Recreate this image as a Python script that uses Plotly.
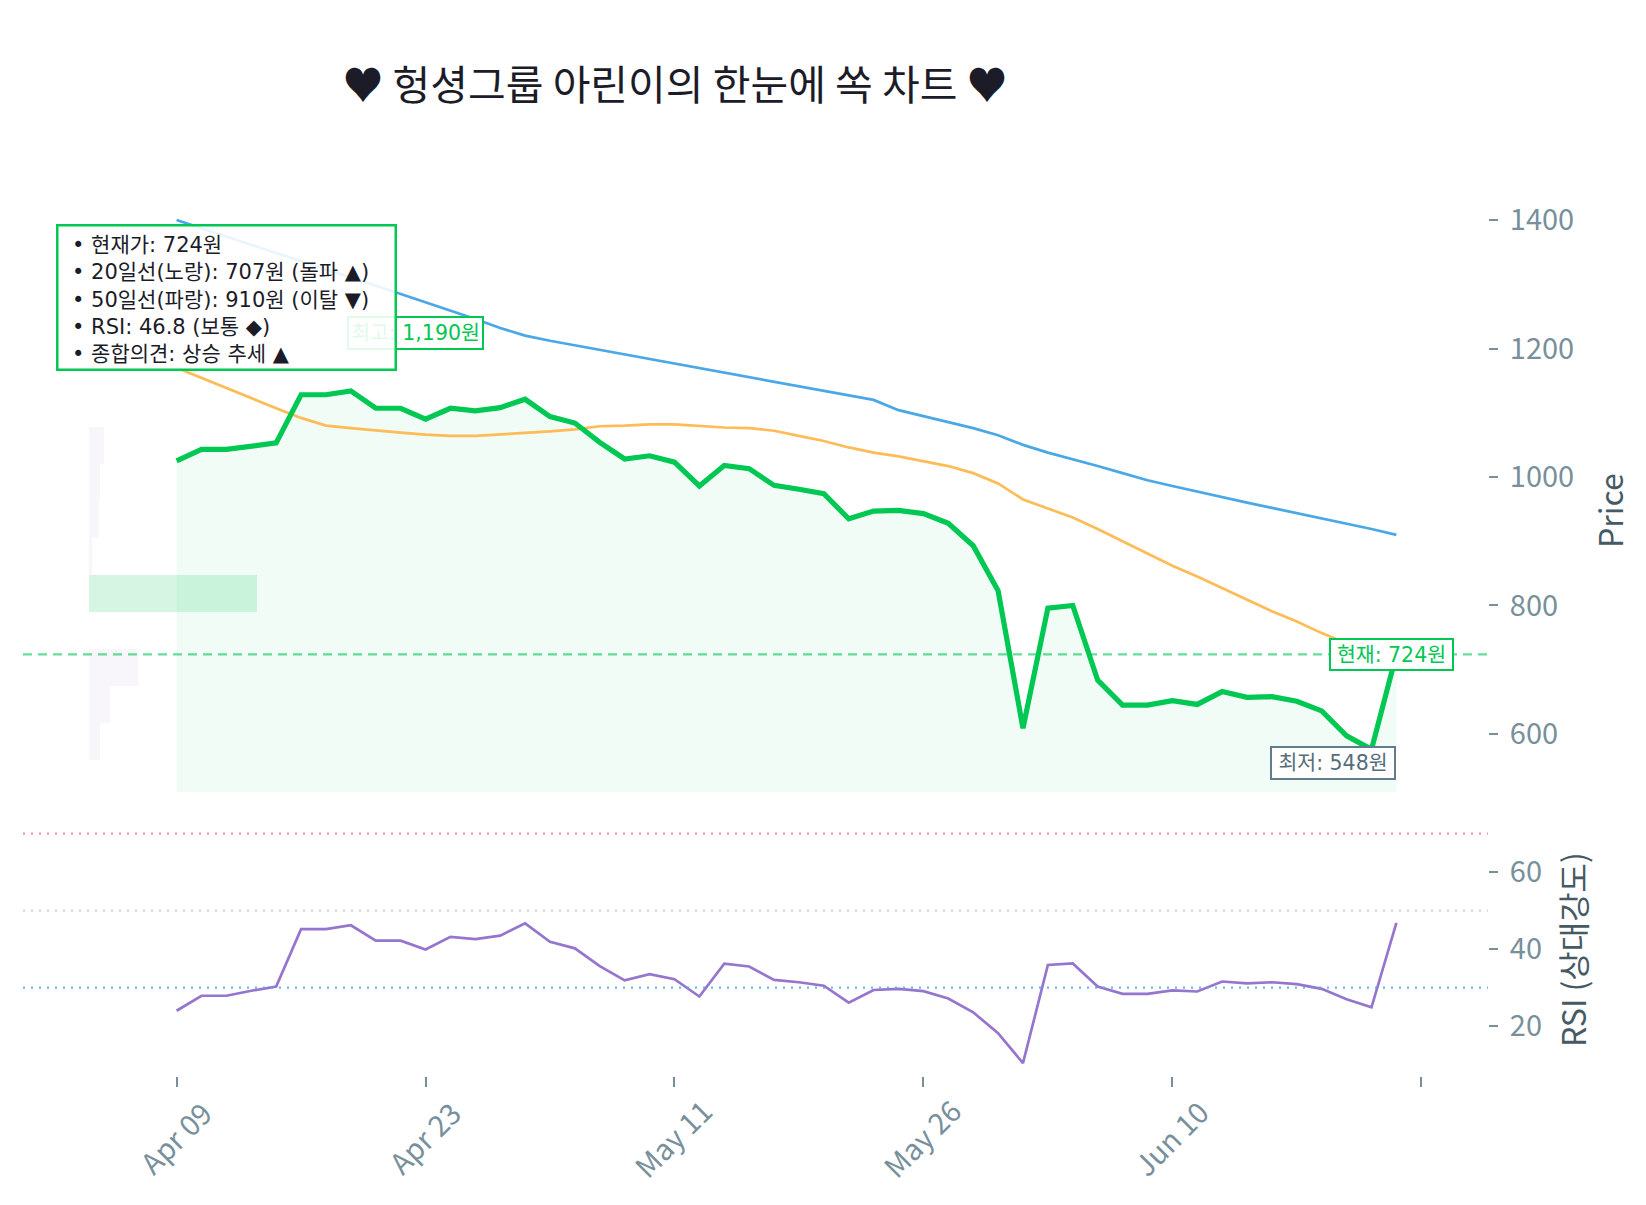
import plotly.graph_objects as go

# ---------------- data ----------------
close = [1025, 1043, 1043, 1048, 1053, 1128, 1128, 1134, 1107, 1107,
         1090, 1107, 1103, 1108, 1121, 1094, 1084, 1054, 1028, 1033,
         1023, 986, 1018, 1013, 987, 981, 974, 935, 947, 948,
         943, 928, 893, 823, 609, 796, 800, 684, 645, 645,
         652, 646, 666, 657, 658, 651, 636, 597, 576, 724]
ma20 = [1170, 1154, 1138, 1123, 1107, 1092, 1080, 1076, 1072, 1069,
        1066, 1064, 1064, 1066, 1069, 1071, 1074, 1079, 1080, 1082,
        1082, 1079, 1077, 1076, 1072, 1064, 1056, 1046, 1038, 1032,
        1025, 1017, 1006, 990, 965, 951, 937, 919, 900, 881,
        862, 845, 827, 809, 791, 775, 757, 741, 723, 707]
ma50 = [1400, 1387, 1374, 1361, 1348, 1336, 1323, 1311, 1298, 1286,
        1273, 1259, 1246, 1232, 1220, 1212, 1205, 1198, 1191, 1184,
        1177, 1170, 1163, 1156, 1149, 1142, 1135, 1128, 1120, 1104,
        1095, 1085, 1076, 1065, 1050, 1038, 1028, 1017, 1006, 995,
        986, 977, 968, 960, 952, 944, 936, 927, 919, 910]
rsi = [24.0, 27.9, 27.9, 29.2, 30.3, 45.2, 45.2, 46.2, 42.2, 42.2,
       39.9, 43.2, 42.6, 43.5, 46.7, 41.9, 40.2, 35.6, 31.9, 33.5,
       32.2, 27.7, 36.2, 35.5, 32.0, 31.4, 30.5, 26.1, 29.4, 29.7,
       29.1, 27.2, 23.6, 18.2, 10.4, 35.9, 36.3, 30.3, 28.4, 28.4,
       29.3, 29.0, 31.6, 31.1, 31.4, 30.9, 29.7, 27.0, 24.9, 46.8]
tick_pos = [0, 10, 20, 30, 40, 50]
tick_labels = ["Apr 09", "Apr 23", "May 11", "May 26", "Jun 10", ""]
high_idx, high_val = 11, 1190
low_idx, low_val = 48, 548
vp_centers = [588.75, 646.25, 703.75, 761.25, 818.75, 876.25, 933.75, 991.25, 1048.75]
vp_volume = [2.6, 5.0, 11.7, 0.0, 40.0, 0.7, 2.4, 2.6, 3.6]
vp_bin = 57.5
rsi_levels = [70, 50, 30]
price_ticks = [600, 800, 1000, 1200, 1400]
rsi_ticks = [20, 40, 60]

# ---------------- style ----------------
FONT = "Noto Sans CJK KR"
BOXFONT = "DejaVu Sans, Noto Sans CJK KR"
GREEN = "#00C853"
ORANGE = "rgba(255,183,77,0.95)"
BLUE = "#4AA8E6"
PURPLE = "#9575CD"
TICK = "#78909C"
LABEL = "#455A64"
DARK = "#1C1C28"

W, H = 1646, 1205
ML, MR, MT, MB = 23, 158, 100, 129
PH = H - MT - MB  # plot-area height in px
PW = W - ML - MR


def px_x(px):
    return (px - ML) / PW


def px_y(py):
    return (H - MB - py) / PH


def ydom(top_px, bot_px):
    return [px_y(bot_px), px_y(top_px)]


x = list(range(len(close)))
poc = max(range(len(vp_volume)), key=lambda k: vp_volume[k])
vp_colors = ["rgba(0,200,83,0.16)" if k == poc else "rgba(149,117,205,0.07)"
             for k in range(len(vp_volume))]

fig = go.Figure()

# volume profile (overlay axis)
fig.add_trace(go.Bar(x=vp_volume, y=vp_centers, orientation="h", width=vp_bin,
                     base=0, marker=dict(color=vp_colors, line=dict(width=0)),
                     xaxis="x3", yaxis="y", showlegend=False, hoverinfo="skip"))
# fill under close
fig.add_trace(go.Scatter(x=x, y=close, mode="lines", fill="tozeroy",
                         fillcolor="rgba(0,200,83,0.06)", line=dict(width=0),
                         xaxis="x", yaxis="y", showlegend=False, hoverinfo="skip"))
fig.add_trace(go.Scatter(x=x, y=ma20, mode="lines", line=dict(color=ORANGE, width=2.7),
                         xaxis="x", yaxis="y", showlegend=False))
fig.add_trace(go.Scatter(x=x, y=ma50, mode="lines", line=dict(color=BLUE, width=2.7),
                         xaxis="x", yaxis="y", showlegend=False))
fig.add_trace(go.Scatter(x=x, y=close, mode="lines", line=dict(color=GREEN, width=5.2),
                         xaxis="x", yaxis="y", showlegend=False))
# RSI
fig.add_trace(go.Scatter(x=x, y=rsi, mode="lines", line=dict(color=PURPLE, width=2.7),
                         xaxis="x2", yaxis="y2", showlegend=False))

# ---------------- reference lines ----------------
shapes = [dict(type="line", xref="x domain", yref="y", x0=0, x1=1,
               y0=close[-1], y1=close[-1],
               line=dict(color="rgba(0,200,83,0.6)", width=2.2, dash="9px,6px"))]
rsi_colors = ["rgba(255,110,140,0.8)", "rgba(176,190,197,0.6)", "rgba(79,172,235,0.85)"]
for lvl, c in zip(rsi_levels, rsi_colors):
    shapes.append(dict(type="line", xref="x2 domain", yref="y2", x0=0, x1=1,
                       y0=lvl, y1=lvl, line=dict(color=c, width=2.2, dash="2px,6px")))

x_range = [-6.17, 52.68]
price_range = [509.7, 1446.7]
rsi_range = [7.07, 73.0]
vp_px_per_unit = 168 / max(vp_volume)
vp_left = -(89 - ML) / vp_px_per_unit
vp_range = [vp_left, vp_left + PW / vp_px_per_unit]

tickfont = dict(family=FONT, size=29, color=TICK)

NB = "\u00a0"
info_lines = [f"현재가: {close[-1]}원",
              f"20일선(노랑): {ma20[-1]}원 (돌파 ▲)",
              f"50일선(파랑): {ma50[-1]}원 (이탈 ▼)",
              f"RSI: {rsi[-1]} (보통 ◆)",
              "종합의견: 상승 추세 ▲"]
info_text = "<br>".join("•" + NB + s for s in info_lines)

annotations = [
    dict(x=high_idx, y=high_val, xref="x", yref="y", showarrow=False,
         text=f"최고: {high_val:,}원", xshift=-35, yshift=22, width=133, height=30,
         font=dict(family=BOXFONT, size=20.5, color=GREEN),
         bgcolor="white", bordercolor=GREEN, borderwidth=2, borderpad=0),
    dict(x=low_idx, y=low_val, xref="x", yref="y", showarrow=False,
         text=f"최저: {low_val}원", xshift=-39, yshift=4, width=122, height=30,
         font=dict(family=BOXFONT, size=20.5, color="#546E7A"),
         bgcolor="white", bordercolor="#607D8B", borderwidth=2, borderpad=0),
    dict(x=x[-1], y=close[-1], xref="x", yref="y", showarrow=False,
         text=f"현재: {close[-1]}원", xshift=-5, width=121, height=29,
         font=dict(family=BOXFONT, size=20.5, color=GREEN),
         bgcolor="white", bordercolor=GREEN, borderwidth=2, borderpad=0),
    # info box frame
    dict(x=px_x(56), y=px_y(224), xref="paper", yref="paper",
         xanchor="left", yanchor="top", showarrow=False, text=NB,
         width=336, height=142, font=dict(family=FONT, size=10),
         bgcolor="rgba(255,255,255,0.88)", bordercolor=GREEN, borderwidth=2.5, borderpad=0),
    # info text
    dict(x=px_x(70), y=px_y(299), xref="paper", yref="paper",
         xanchor="left", yanchor="middle", showarrow=False, align="left",
         text=info_text, font=dict(family=BOXFONT, size=21, color=DARK)),
]
for pos, lab in zip(tick_pos, tick_labels):
    if lab:
        annotations.append(dict(x=pos, y=px_y(1137), xref="x2", yref="paper",
                                xanchor="center", yanchor="middle", showarrow=False,
                                text=lab, textangle=-45, xshift=-2,
                                font=tickfont))
annotations += [
    dict(x=px_x(1609), y=px_y(511), xref="paper", yref="paper",
         xanchor="center", yanchor="middle",
         showarrow=False, text="Price", textangle=-90,
         font=dict(family=FONT, size=32, color=LABEL)),
    dict(x=px_x(1572), y=px_y(950), xref="paper", yref="paper",
         xanchor="center", yanchor="middle",
         showarrow=False, text="RSI (상대강도)", textangle=-90,
         font=dict(family=FONT, size=32, color=LABEL)),
]

fig.update_layout(
    width=W, height=H,
    margin=dict(l=ML, r=MR, t=MT, b=MB),
    paper_bgcolor="white", plot_bgcolor="rgba(0,0,0,0)",
    font=dict(family=FONT, color=DARK),
    title=dict(text="♥ 헝셩그룹 아린이의 한눈에 쏙 차트 ♥", x=675 / W, xanchor="center",
               xref="container", y=1 - 86 / H, yanchor="middle", yref="container",
               font=dict(family=FONT, size=41, color=DARK)),
    showlegend=False,
    bargap=0,
    xaxis=dict(domain=[0, 1], anchor="y", range=x_range, showticklabels=False,
               ticks="", showgrid=False, zeroline=False, showline=False),
    xaxis2=dict(domain=[0, 1], anchor="y2", range=x_range, matches="x",
                tickmode="array", tickvals=tick_pos, showticklabels=False,
                ticks="outside", ticklen=10, tickwidth=2, tickcolor=TICK,
                showgrid=False, zeroline=False, showline=False),
    xaxis3=dict(overlaying="x", anchor="y", range=vp_range, visible=False),
    yaxis=dict(domain=ydom(190, 792), anchor="x", side="right", range=price_range,
               tickmode="array", tickvals=price_ticks, ticks="outside", ticklen=9,
               tickwidth=2, tickcolor=TICK, tickfont=tickfont, ticklabelstandoff=6,
               showgrid=False, zeroline=False, showline=False),
    yaxis2=dict(domain=ydom(822, 1076), anchor="x2", side="right", range=rsi_range,
                tickmode="array", tickvals=rsi_ticks, ticks="outside", ticklen=9,
                tickwidth=2, tickcolor=TICK, tickfont=tickfont, ticklabelstandoff=6,
                showgrid=False, zeroline=False, showline=False),
    shapes=shapes,
    annotations=annotations,
)

fig.write_html("out.html")
